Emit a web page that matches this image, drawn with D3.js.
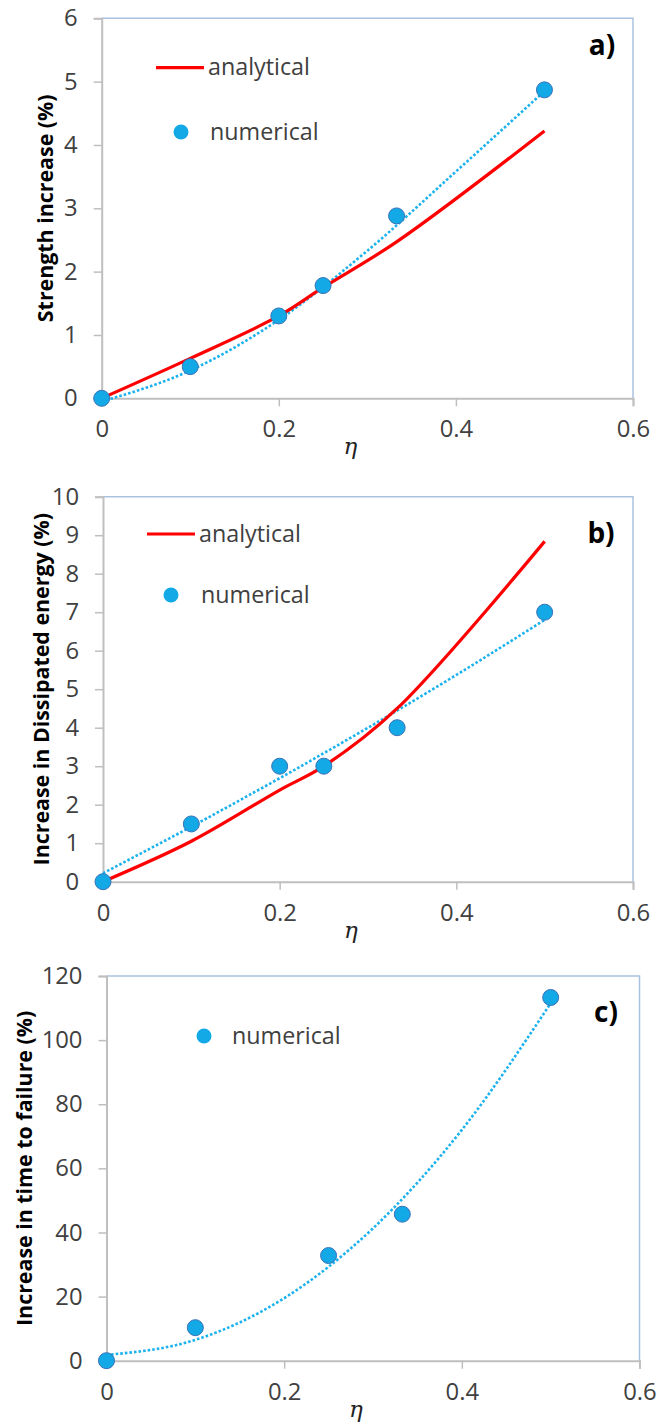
<!DOCTYPE html>
<html><head><meta charset="utf-8">
<script src="https://cdn.jsdelivr.net/npm/d3@7"></script>
<style>body{margin:0;background:#fff}svg{display:block}</style>
</head><body>
<script>
// ---------- data ----------
const etaTicks = [0, 0.2, 0.4, 0.6];
const etaTickLabels = ["0", "0.2", "0.4", "0.6"];

const etaNumA = [0, 0.1, 0.2, 0.25, 0.333, 0.5];
const numA    = [0, 0.5, 1.3, 1.78, 2.88, 4.87];
const etaAnaA = [0, 0.1, 0.2, 0.25, 0.333, 0.5];
const anaA    = [0, 0.63, 1.3, 1.75, 2.47, 4.22];
const etaTrendA = [0, 0.1, 0.2, 0.3, 0.4, 0.5];
const trendA  = [-0.05, 0.44, 1.24, 2.33, 3.58, 4.85];
const yTicksA = [0, 1, 2, 3, 4, 5, 6];

const etaNumB = [0, 0.1, 0.2, 0.25, 0.333, 0.5];
const numB    = [0, 1.5, 3.0, 3.0, 4.0, 7.0];
const etaAnaB = [0, 0.1, 0.2, 0.25, 0.333, 0.5];
const anaB    = [0, 1.05, 2.38, 3.0, 4.5, 8.84];
const etaTrendB = [0, 0.1, 0.2, 0.3, 0.4, 0.5];
const trendB  = [0.22, 1.43, 2.69, 4.0, 5.37, 6.8];
const yTicksB = [0, 1, 2, 3, 4, 5, 6, 7, 8, 9, 10];

const etaNumC = [0, 0.1, 0.25, 0.333, 0.5];
const numC    = [0, 10.3, 32.8, 45.7, 113.3];
const etaTrendC = [0, 0.1, 0.2, 0.3, 0.4, 0.5];
const trendC  = [1.8, 6.5, 19.5, 41.3, 72, 111.5];
const yTicksC = [0, 20, 40, 60, 80, 100, 120];

const titles = ["Strength increase (%)", "Increase in Dissipated energy (%)", "Increase in time to failure (%)"];
const panelLabels = ["a)", "b)", "c)"];
const legendAnalytical = "analytical";
const legendNumerical = "numerical";
const xTitle = "η";

// ---------- layout ----------
const W = 657, H = 1428;
const svg = d3.select("body").append("svg").attr("width", W).attr("height", H);

const FONT = "'Open Sans', 'Liberation Sans', sans-serif";
const RED = "#ff0000", BLUE = "#12a9e6", BLUE_EDGE = "#3a72b8", DOT = "#1cb2ee";

function measure(text, weight, style, family) {
  const t = svg.append("text").attr("font-family", family || FONT).attr("font-weight", weight)
    .attr("font-style", style || "normal").attr("font-size", 100).text(text);
  const w = t.node().getComputedTextLength();
  t.remove();
  return w;
}
const tickSize = 100 * 33.5 / measure("0.2", "normal");
const legendSize = 100 * 102 / measure("analytical", "normal");
const titleSize = 100 * 228 / measure(titles[0], "bold");
const labelSize = 28;

const zip = (xs, ys) => xs.map((x, i) => [x, ys[i]]);

const panels = [
  { box: {l: 101.7, r: 633, t: 18.3, b: 398.3}, ydom: [0, 6], yticks: yTicksA, title: titles[0], titleX: 45,
    num: zip(etaNumA, numA), ana: zip(etaAnaA, anaA), trend: zip(etaTrendA, trendA), label: panelLabels[0],
    labelPos: [602, 45], legLine: {x1: 156, x2: 204, y: 67.7, tx: 208}, legNum: {cx: 181, cy: 132, tx: 210} },
  { box: {l: 103, r: 633, t: 496.7, b: 881.7}, ydom: [0, 10], yticks: yTicksB, title: titles[1], titleX: 41,
    num: zip(etaNumB, numB), ana: zip(etaAnaB, anaB), trend: zip(etaTrendB, trendB), label: panelLabels[1],
    labelPos: [601, 533], legLine: {x1: 147, x2: 195, y: 534, tx: 199}, legNum: {cx: 171, cy: 595, tx: 201} },
  { box: {l: 106.5, r: 639.5, t: 976, b: 1360.7}, ydom: [0, 120], yticks: yTicksC, title: titles[2], titleX: 24,
    num: zip(etaNumC, numC), ana: null, trend: zip(etaTrendC, trendC), label: panelLabels[2],
    labelPos: [606, 1012], legLine: null, legNum: {cx: 204, cy: 1036, tx: 232} }
];

panels.forEach(p => {
  const {l, r, t, b} = p.box;
  const x = d3.scaleLinear().domain([0, 0.6]).range([l, r]);
  const y = d3.scaleLinear().domain(p.ydom).range([b, t]);
  const g = svg.append("g");

  // frame top/right
  g.append("path").attr("d", `M${l},${t}H${r}V${b}`).attr("fill", "none")
    .attr("stroke", "#a9c2df").attr("stroke-width", 1.5);

  // y axis
  const ya = g.append("g").attr("transform", `translate(${l},0)`)
    .call(d3.axisLeft(y).tickValues(p.yticks).tickSize(8).tickPadding(16).tickFormat(d3.format("d")));
  ya.select(".domain").attr("stroke", "#bfbfbf").attr("stroke-width", 2);
  ya.selectAll(".tick line").attr("stroke", "#bfbfbf").attr("stroke-width", 1.5);
  ya.selectAll(".tick text").attr("font-family", FONT).attr("font-size", tickSize).attr("fill", "#404040");

  // x axis
  const xa = g.append("g").attr("transform", `translate(0,${b})`)
    .call(d3.axisBottom(x).tickValues(etaTicks).tickSize(8).tickPadding(14)
      .tickFormat((d, i) => etaTickLabels[i]));
  xa.select(".domain").attr("stroke", "#bfbfbf").attr("stroke-width", 2);
  xa.selectAll(".tick line").attr("stroke", "#bfbfbf").attr("stroke-width", 1.5);
  xa.selectAll(".tick text").attr("font-family", FONT).attr("font-size", tickSize).attr("fill", "#404040");

  // x title
  g.append("text").attr("x", (l + r) / 2 - 17).attr("y", b + 56)
    .attr("text-anchor", "middle").attr("font-family", "'DejaVu Serif', serif").attr("font-style", "italic")
    .attr("font-size", 23).attr("fill", "#222").text(xTitle);

  // y title
  g.append("text").attr("transform", `translate(${p.titleX},${(t + b) / 2}) rotate(-90)`)
    .attr("text-anchor", "middle").attr("dy", "0.35em").attr("font-family", FONT).attr("font-weight", "bold")
    .attr("font-size", titleSize).attr("fill", "#000").text(p.title);

  // trendline (dotted)
  g.append("path").datum(p.trend)
    .attr("d", d3.line().x(d => x(d[0])).y(d => y(d[1])).curve(d3.curveMonotoneX))
    .attr("fill", "none").attr("stroke", DOT).attr("stroke-width", 2.6).attr("stroke-dasharray", "2.6 2");

  // analytical
  if (p.ana) {
    g.append("path").datum(p.ana)
      .attr("d", d3.line().x(d => x(d[0])).y(d => y(d[1])).curve(d3.curveCatmullRom.alpha(0.5)))
      .attr("fill", "none").attr("stroke", RED).attr("stroke-width", 3.2);
  }

  // numerical markers
  g.selectAll("circle.num").data(p.num).enter().append("circle").attr("class", "num")
    .attr("cx", d => x(d[0])).attr("cy", d => y(d[1])).attr("r", 8)
    .attr("fill", BLUE).attr("stroke", BLUE_EDGE).attr("stroke-width", 1);

  // legend
  if (p.legLine) {
    const L = p.legLine;
    g.append("line").attr("x1", L.x1).attr("x2", L.x2).attr("y1", L.y).attr("y2", L.y)
      .attr("stroke", RED).attr("stroke-width", 3.2);
    g.append("text").attr("x", L.tx).attr("y", L.y).attr("dy", "0.33em").attr("font-family", FONT)
      .attr("font-size", legendSize).attr("fill", "#404040").text(legendAnalytical);
  }
  const N = p.legNum;
  g.append("circle").attr("cx", N.cx).attr("cy", N.cy).attr("r", 7.5).attr("fill", BLUE);
  g.append("text").attr("x", N.tx).attr("y", N.cy).attr("dy", "0.33em").attr("font-family", FONT)
    .attr("font-size", legendSize).attr("fill", "#404040").text(legendNumerical);

  // panel label
  g.append("text").attr("x", p.labelPos[0]).attr("y", p.labelPos[1]).attr("dy", "0.35em")
    .attr("text-anchor", "middle").attr("font-family", FONT).attr("font-weight", "bold")
    .attr("font-size", labelSize).attr("fill", "#000").text(p.label);
});
</script>
</body></html>
